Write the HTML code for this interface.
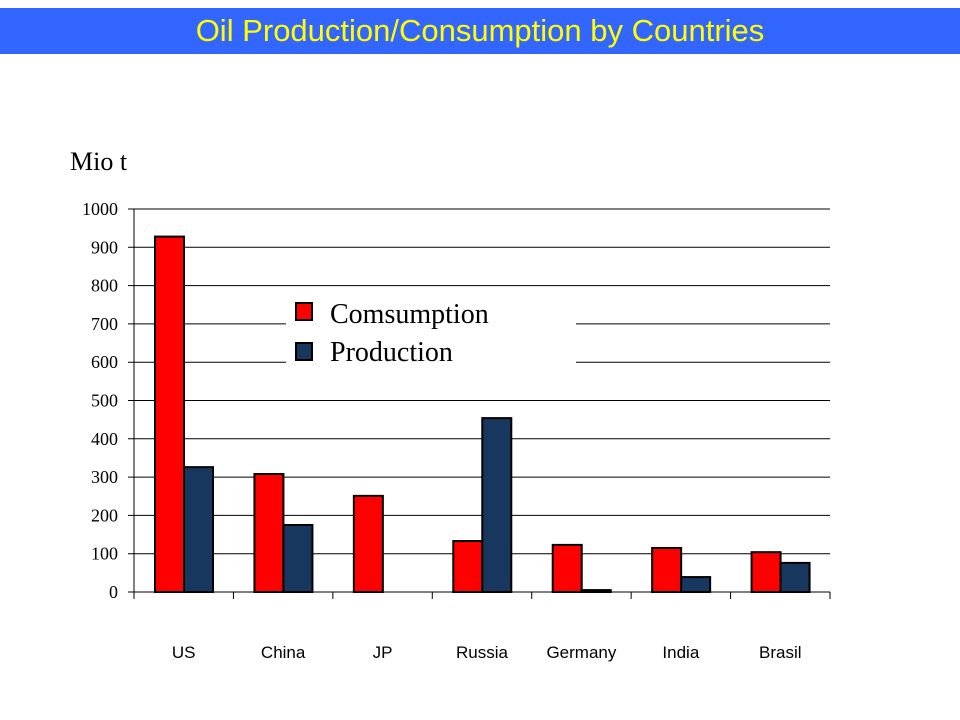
<!DOCTYPE html>
<html><head><meta charset="utf-8"><style>
body{margin:0;width:960px;height:720px;background:#fff;overflow:hidden;font-family:"Liberation Sans",sans-serif}
#title{position:absolute;left:0;top:8px;width:960px;height:46px;background:#3366ff;color:#ffff00;font-size:31px;text-align:center;line-height:46px}
</style></head><body>
<div id="title">Oil Production/Consumption by Countries</div>
<svg id="chart" width="960" height="720" style="position:absolute;left:0;top:0"></svg>
<script>
const categories=["US","China","JP","Russia","Germany","India","Brasil"];
const consumption=[928,308,251,133,123,115,104];
const production=[326,175,0,454,5,39,76];
const ticks=[0,100,200,300,400,500,600,700,800,900,1000];
const NS="http://www.w3.org/2000/svg";
const svg=document.getElementById('chart');
const x0=134,x1=830,yb=592,yt=209,maxV=1000;
const slot=(x1-x0)/categories.length;
const y=v=>yb-(v/maxV)*(yb-yt);
function mk(t,a,txt){const e=document.createElementNS(NS,t);for(const k in a)e.setAttribute(k,a[k]);if(txt!=null)e.textContent=txt;svg.appendChild(e);return e;}
let e=mk('text',{x:70,y:170,'font-family':'Liberation Serif, serif','font-size':26,fill:'#000'},'Mio t');


ticks.forEach(t=>{
  const l=mk('line',{x1:128,x2:x1,y1:y(t),y2:y(t),stroke:'#000','stroke-width':1});
  
  
  const tx=mk('text',{x:118,y:y(t)+6,'text-anchor':'end','font-family':'Liberation Serif, serif','font-size':18},String(t));
  
  
});
// legend box covering gridlines
e=mk('rect',{x:286,y:298,width:290,height:72,fill:'#fff'});


e=mk('line',{x1:x0,x2:x0,y1:yt,y2:yb,stroke:'#000'});


for(let i=0;i<=categories.length;i++){
  const t=mk('line',{x1:x0+i*slot,x2:x0+i*slot,y1:yb,y2:yb+7,stroke:'#000'});
  
  
}
categories.forEach((c,i)=>{
  const sx=x0+i*slot;
  const r=mk('rect',{x:sx+21,y:y(consumption[i]),width:29,height:yb-y(consumption[i]),fill:'#ff0000',stroke:'#000','stroke-width':2});
  
  
  if(production[i]>0){
    const b=mk('rect',{x:sx+50,y:y(production[i]),width:29,height:yb-y(production[i]),fill:'#17375e',stroke:'#000','stroke-width':2});
    
    
  }
  const lb=mk('text',{x:sx+slot/2,y:658,'text-anchor':'middle','font-size':17},c);
  
  
});
e=mk('line',{x1:x0,x2:x1,y1:yb,y2:yb,stroke:'#000'});


e=mk('rect',{x:296,y:303,width:16,height:17,fill:'#ff0000',stroke:'#000','stroke-width':2});


e=mk('text',{x:330,y:323,'font-family':'Liberation Serif, serif','font-size':28},'Comsumption');


e=mk('rect',{x:296,y:343,width:16,height:17,fill:'#17375e',stroke:'#000','stroke-width':2});


e=mk('text',{x:330,y:361,'font-family':'Liberation Serif, serif','font-size':28},'Production');


</script>
</body></html>
